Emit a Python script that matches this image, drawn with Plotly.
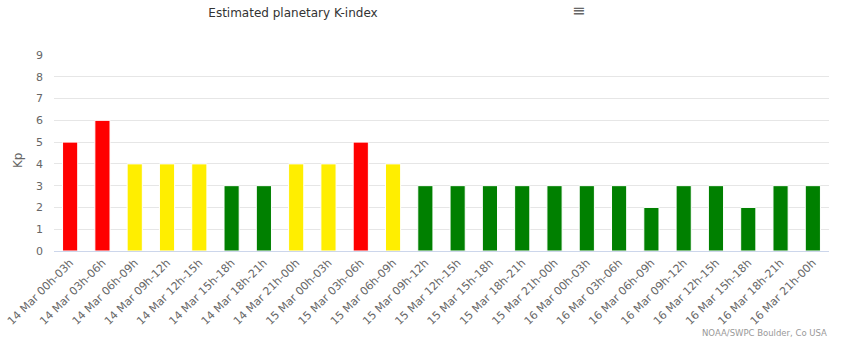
import plotly.graph_objects as go

categories = [
    "14 Mar 00h-03h", "14 Mar 03h-06h", "14 Mar 06h-09h", "14 Mar 09h-12h",
    "14 Mar 12h-15h", "14 Mar 15h-18h", "14 Mar 18h-21h", "14 Mar 21h-00h",
    "15 Mar 00h-03h", "15 Mar 03h-06h", "15 Mar 06h-09h", "15 Mar 09h-12h",
    "15 Mar 12h-15h", "15 Mar 15h-18h", "15 Mar 18h-21h", "15 Mar 21h-00h",
    "16 Mar 00h-03h", "16 Mar 03h-06h", "16 Mar 06h-09h", "16 Mar 09h-12h",
    "16 Mar 12h-15h", "16 Mar 15h-18h", "16 Mar 18h-21h", "16 Mar 21h-00h",
]
kp_values = [5, 6, 4, 4, 4, 3, 3, 4, 4, 5, 4, 3, 3, 3, 3, 3, 3, 3, 2, 3, 3, 2, 3, 3]
y_ticks = [0, 1, 2, 3, 4, 5, 6, 7, 8, 9]


def kp_color(v):
    if v >= 5:
        return "#ff0000"
    if v == 4:
        return "#ffee00"
    return "#008000"


colors = [kp_color(v) for v in kp_values]

FONT = "DejaVu Sans"

W, H = 845, 357
L, R, T, B = 54, 16, 55, 106
PW = W - L - R
PH = H - T - B

fig = go.Figure(
    go.Bar(
        x=categories,
        y=kp_values,
        marker=dict(color=colors, line=dict(color="#ffffff", width=1)),
        width=0.47,
        hoverinfo="x+y",
    )
)

fig.update_layout(
    width=W,
    height=H,
    margin=dict(l=L, r=R, t=T, b=B),
    paper_bgcolor="#ffffff",
    plot_bgcolor="#ffffff",
    showlegend=False,
    font=dict(family=FONT, size=11, color="#666666"),
    title=dict(
        text="Estimated planetary K-index",
        x=293 / W,
        xanchor="center",
        y=1 - 13 / H,
        yanchor="middle",
        font=dict(family=FONT, size=12, color="#333333"),
    ),
    xaxis=dict(
        type="category",
        tickangle=-45,
        tickfont=dict(family=FONT, size=11, color="#666666"),
        showgrid=False,
        showline=True,
        linecolor="#ccd6eb",
        linewidth=1,
        ticks="",
        automargin=False,
        range=[-0.5, 23.5],
    ),
    yaxis=dict(
        range=[0, 9],
        tickvals=y_ticks,
        tickfont=dict(family=FONT, size=11, color="#666666"),
        ticklabelstandoff=10,
        showgrid=True,
        gridcolor="#e6e6e6",
        gridwidth=1,
        zeroline=False,
        automargin=False,
    ),
    annotations=[
        dict(
            text="Kp",
            xref="paper", yref="paper",
            x=-(L - 18) / PW, y=(251 - 160) / PH,
            xanchor="center", yanchor="middle",
            textangle=-90,
            showarrow=False,
            font=dict(family=FONT, size=12, color="#666666"),
        ),
        dict(
            text="NOAA/SWPC Boulder, Co USA",
            xref="paper", yref="paper",
            x=1, y=-(333 - 251) / PH,
            xanchor="right", yanchor="middle",
            showarrow=False,
            font=dict(family=FONT, size=8.5, color="#999999"),
        ),
        dict(
            text="≡",
            xref="paper", yref="paper",
            x=(578 - L) / PW, y=1 + (T - 10) / PH,
            xanchor="center", yanchor="middle",
            showarrow=False,
            font=dict(family=FONT, size=16, color="#666666"),
        ),
    ],
)

fig.write_html(
    "out.html",
    config={"displayModeBar": False},
    post_script="document.body.style.margin='0';document.body.style.overflow='hidden';",
)
